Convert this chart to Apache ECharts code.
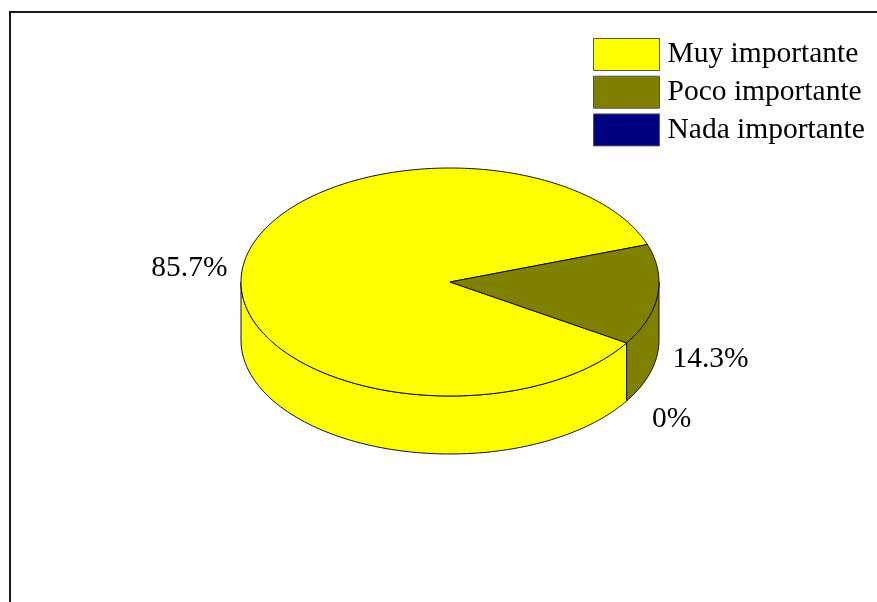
<!DOCTYPE html>
<html>
<head>
<meta charset="utf-8">
<style>
  html, body { margin: 0; padding: 0; background: #ffffff; }
  #chart { width: 877px; height: 602px; }
</style>
<script src="https://cdn.jsdelivr.net/npm/echarts@6/dist/echarts.min.js"></script>
</head>
<body>
<div id="chart"></div>
<script>
// Survey answers and their shares (%)
const categories = ['Muy importante', 'Poco importante', 'Nada importante'];
const percents = [85.7, 14.3, 0];
const colors = ['#FFFF00', '#808000', '#000080'];

// 3D pie geometry (pixels) and orientation
const PIE = { cx: 450, cy: 282, rx: 209, ry: 114, depth: 58 };
const START_ANGLE = -32.3;   // degrees, counter-clockwise from 3 o'clock; slices run clockwise
const LABEL_SCALE = 1.255;   // label distance relative to the rim
const LABEL_DY = 3;          // small downward nudge of the percentage labels
const FONT = '"Liberation Serif", "Times New Roman", serif';
const FONT_SIZE = 29.5;

const total = percents.reduce((a, b) => a + b, 0);
const RAD = Math.PI / 180;

function rim(angleDeg, dy) {
  const a = angleDeg * RAD;
  return [PIE.cx + PIE.rx * Math.cos(a), PIE.cy - PIE.ry * Math.sin(a) + (dy || 0)];
}

function arcPoints(from, to, dy) {
  const pts = [];
  const n = Math.max(2, Math.ceil(Math.abs(to - from)));
  for (let i = 0; i <= n; i++) pts.push(rim(from + (to - from) * i / n, dy));
  return pts;
}

const edge = { stroke: '#111', lineWidth: 1, lineJoin: 'round' };

function renderSlice(params, api) {
  const idx = params.seriesIndex;
  const value = api.value(0);
  let before = 0;
  for (let i = 0; i < idx; i++) before += percents[i];
  const a1 = START_ANGLE - before / total * 360;
  const a2 = a1 - value / total * 360;
  const color = colors[idx];
  const children = [];

  if (value > 0) {
    // front wall: the part of the slice's rim that faces the viewer
    for (let k = -2; k <= 2; k++) {
      const lo = Math.max(a2, -180 + 360 * k);
      const hi = Math.min(a1, 360 * k);
      if (hi > lo) {
        const pts = arcPoints(lo, hi, 0).concat(arcPoints(hi, lo, PIE.depth));
        children.push({
          type: 'polygon',
          shape: { points: pts },
          style: Object.assign({ fill: color }, edge)
        });
      }
    }
    // top face
    const top = [[PIE.cx, PIE.cy]].concat(arcPoints(a1, a2, 0));
    children.push({
      type: 'polygon',
      shape: { points: top },
      style: Object.assign({ fill: color }, edge)
    });
  }

  // percentage label outside the rim
  const mid = (a1 + a2) / 2;
  const s = Math.sin(mid * RAD), c = Math.cos(mid * RAD);
  const lx = PIE.cx + LABEL_SCALE * PIE.rx * c;
  const ly = PIE.cy - LABEL_SCALE * PIE.ry * s + (s < 0 ? PIE.depth : 0) + LABEL_DY;
  children.push({
    type: 'text',
    z2: 10,
    style: {
      text: value + '%',
      x: lx,
      y: ly,
      align: 'center',
      verticalAlign: 'middle',
      fontFamily: FONT,
      fontSize: FONT_SIZE,
      fill: '#000'
    }
  });

  return { type: 'group', children: children };
}

const chart = echarts.init(document.getElementById('chart'), null, { renderer: 'canvas' });

chart.setOption({
  backgroundColor: '#ffffff',
  animation: false,
  legend: {
    orient: 'vertical',
    left: 593,
    top: 38,
    padding: 0,
    itemWidth: 66,
    itemHeight: 32,
    itemGap: 4.7,
    icon: 'rect',
    itemStyle: { borderColor: '#555', borderWidth: 1 },
    textStyle: { fontFamily: FONT, fontSize: FONT_SIZE, color: '#000', padding: [0, 0, 0, 3] },
    selectedMode: false,
    data: categories
  },
  graphic: [{
    type: 'polyline',
    shape: { points: [[10, 602], [10, 12], [877, 12]] },
    style: { stroke: '#1a1a1a', lineWidth: 2, fill: null }
  }],
  series: categories.map((name, i) => ({
    type: 'custom',
    name: name,
    coordinateSystem: 'none',
    itemStyle: { color: colors[i] },
    renderItem: renderSlice,
    data: [[percents[i]]]
  }))
});
</script>
</body>
</html>
